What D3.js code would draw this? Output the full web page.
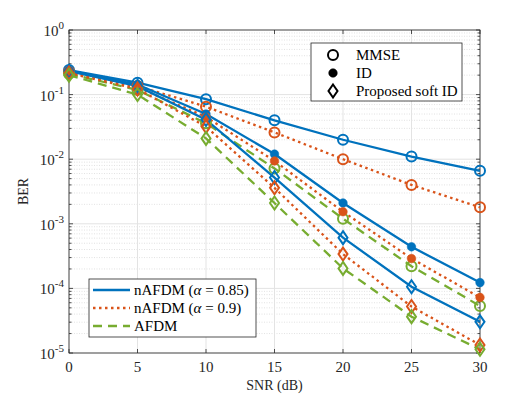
<!DOCTYPE html>
<html lang="en">
<head>
<meta charset="UTF-8">
<title>BER vs SNR</title>
<style>
  body { margin: 0; background: #fff; }
  svg text { font-family: "Liberation Serif", "Times New Roman", "DejaVu Serif", serif; fill: #262626; }
</style>
</head>
<body>
<svg id="chart" width="530" height="397"></svg>
<script src="https://d3js.org/d3.v7.min.js"></script>
<script>
// SNR points (dB)
var snr = [0, 5, 10, 15, 20, 25, 30];

// nAFDM (alpha = 0.85)
var blueMMSE = [0.24, 0.153, 0.085, 0.040, 0.020, 0.011, 0.0066];
var blueID   = [0.235, 0.143, 0.050, 0.012, 0.0021, 0.00044, 0.000123];
var blueSoft = [0.23, 0.135, 0.041, 0.0052, 0.00061, 0.000106, 0.0000304];
// nAFDM (alpha = 0.9)
var orangeMMSE = [0.225, 0.136, 0.065, 0.026, 0.010, 0.0040, 0.0018];
var orangeID   = [0.22, 0.13, 0.045, 0.0094, 0.00154, 0.00029, 0.0000725];
var orangeSoft = [0.215, 0.122, 0.032, 0.0036, 0.00034, 0.0000524, 0.0000133];
// AFDM
var greenMMSE = [0.21, 0.118, 0.036, 0.0072, 0.0012, 0.00022, 0.0000535];
var greenSoft = [0.20, 0.100, 0.021, 0.0021, 0.000204, 0.0000365, 0.0000114];

var xTicks = [0, 5, 10, 15, 20, 25, 30];
var yExps = [0, -1, -2, -3, -4, -5];

var FONT = "'Liberation Serif', 'Times New Roman', 'DejaVu Serif', serif";

var series = [
  { v: blueMMSE, c: "#0072BD", dash: null, m: "circle" },
  { v: orangeMMSE, c: "#D95319", dash: "dot", m: "circle" },
  { v: greenMMSE, c: "#77AC30", dash: "dash", m: "circle" },
  { v: blueID, c: "#0072BD", dash: null, m: "dot" },
  { v: orangeID, c: "#D95319", dash: "dot", m: "dot" },
  { v: blueSoft, c: "#0072BD", dash: null, m: "diamond" },
  { v: orangeSoft, c: "#D95319", dash: "dot", m: "diamond" },
  { v: greenSoft, c: "#77AC30", dash: "dash", m: "diamond" }
];

var margin = { top: 30, right: 50, bottom: 44, left: 69 },
    width = 530 - margin.left - margin.right,
    height = 397 - margin.top - margin.bottom;

var svg = d3.select("#chart").append("g")
    .attr("transform", "translate(" + margin.left + "," + margin.top + ")");

var x = d3.scaleLinear().domain([0, 30]).range([0, width]);
var y = d3.scaleLog().domain([1e-5, 1]).range([height, 0]);

function dashOf(d) {
  if (d === "dot") return "2.5,3.5";
  if (d === "dash") return "9,6";
  return null;
}

// minor grid (dotted)
var minors = [];
for (var e = -5; e < 0; e++) {
  for (var k = 2; k <= 9; k++) minors.push(k * Math.pow(10, e));
}
svg.selectAll(".minor").data(minors).enter().append("line")
  .attr("x1", 0).attr("x2", width)
  .attr("y1", function(d) { return y(d); }).attr("y2", function(d) { return y(d); })
  .attr("stroke", "#cfcfcf").attr("stroke-width", 0.6).attr("stroke-dasharray", "1,1.5");

// major grid
svg.selectAll(".gy").data(yExps).enter().append("line")
  .attr("x1", 0).attr("x2", width)
  .attr("y1", function(d) { return y(Math.pow(10, d)); })
  .attr("y2", function(d) { return y(Math.pow(10, d)); })
  .attr("stroke", "#e3e3e3").attr("stroke-width", 1);
svg.selectAll(".gx").data(xTicks).enter().append("line")
  .attr("y1", 0).attr("y2", height)
  .attr("x1", function(d) { return x(d); }).attr("x2", function(d) { return x(d); })
  .attr("stroke", "#e3e3e3").attr("stroke-width", 1);

// ticks (inward) on all four sides
var tk = svg.append("g").attr("stroke", "#262626").attr("stroke-width", 0.8);
xTicks.forEach(function(t) {
  tk.append("line").attr("x1", x(t)).attr("x2", x(t)).attr("y1", height).attr("y2", height - 4);
  tk.append("line").attr("x1", x(t)).attr("x2", x(t)).attr("y1", 0).attr("y2", 4);
});
yExps.forEach(function(t) {
  var yy = y(Math.pow(10, t));
  tk.append("line").attr("x1", 0).attr("x2", 4).attr("y1", yy).attr("y2", yy);
  tk.append("line").attr("x1", width).attr("x2", width - 4).attr("y1", yy).attr("y2", yy);
});
minors.forEach(function(t) {
  var yy = y(t);
  tk.append("line").attr("x1", 0).attr("x2", 2.5).attr("y1", yy).attr("y2", yy);
  tk.append("line").attr("x1", width).attr("x2", width - 2.5).attr("y1", yy).attr("y2", yy);
});

// box
svg.append("rect").attr("width", width).attr("height", height)
  .attr("fill", "none").attr("stroke", "#262626").attr("stroke-width", 0.8);

// tick labels
svg.selectAll(".xl").data(xTicks).enter().append("text")
  .attr("x", function(d) { return x(d); }).attr("y", height + 19)
  .attr("text-anchor", "middle").attr("font-family", FONT).style("font-size", "15px")
  .text(function(d) { return d; });

var yl = svg.selectAll(".yl").data(yExps).enter().append("text")
  .attr("x", -5).attr("y", function(d) { return y(Math.pow(10, d)) + 6; })
  .attr("text-anchor", "end").attr("font-family", FONT).style("font-size", "15px");
yl.append("tspan").text("10");
yl.append("tspan").attr("dy", -7).style("font-size", "11px")
  .text(function(d) { return d === 0 ? "0" : "-" + Math.abs(d); });

// axis labels
svg.append("text").attr("x", width / 2).attr("y", height + 37)
  .attr("text-anchor", "middle").attr("font-family", FONT).style("font-size", "14px").text("SNR (dB)");
svg.append("text").attr("transform", "rotate(-90)")
  .attr("x", -height / 2).attr("y", -41)
  .attr("text-anchor", "middle").attr("font-family", FONT).style("font-size", "14px").text("BER");

// lines
var line = d3.line()
  .x(function(d, i) { return x(snr[i]); })
  .y(function(d) { return y(d); });

var plot = svg.append("g");
series.forEach(function(s) {
  plot.append("path").datum(s.v)
    .attr("d", line)
    .attr("fill", "none")
    .attr("stroke", s.c)
    .attr("stroke-width", 2.3)
    .attr("stroke-dasharray", dashOf(s.dash));
});

function drawMarker(g, type, cx, cy, color) {
  if (type === "circle") {
    g.append("circle").attr("cx", cx).attr("cy", cy).attr("r", 5)
      .attr("fill", "none").attr("stroke", color).attr("stroke-width", 2);
  } else if (type === "dot") {
    g.append("circle").attr("cx", cx).attr("cy", cy).attr("r", 4.3)
      .attr("fill", color).attr("stroke", color).attr("stroke-width", 0.5);
  } else {
    g.append("path")
      .attr("d", "M" + cx + "," + (cy - 6.5) + "L" + (cx + 4.5) + "," + cy +
                 "L" + cx + "," + (cy + 6.5) + "L" + (cx - 4.5) + "," + cy + "Z")
      .attr("fill", "none").attr("stroke", color).attr("stroke-width", 2);
  }
}

series.forEach(function(s) {
  s.v.forEach(function(v, i) {
    drawMarker(plot, s.m, x(snr[i]), y(v), s.c);
  });
});

// legend: detectors (top right)
var lg1 = svg.append("g").attr("transform", "translate(" + (311 - margin.left) + "," + (43 - margin.top) + ")");
lg1.append("rect").attr("width", 151).attr("height", 58)
  .attr("fill", "#fff").attr("stroke", "#262626").attr("stroke-width", 0.8);
var detectors = ["MMSE", "ID", "Proposed soft ID"];
var detMarks = ["circle", "dot", "diamond"];
detectors.forEach(function(name, i) {
  var yy = 12 + i * 18;
  drawMarker(lg1, detMarks[i], 22, yy, "#000");
  lg1.append("text").attr("x", 45).attr("y", yy + 5).attr("font-family", FONT)
    .style("font-size", "15px").style("fill", "#000").text(name);
});

// legend: waveforms (bottom left)
var lg2 = svg.append("g").attr("transform", "translate(" + (89 - margin.left) + "," + (279 - margin.top) + ")");
lg2.append("rect").attr("width", 167).attr("height", 58)
  .attr("fill", "#fff").attr("stroke", "#262626").attr("stroke-width", 0.8);
var waves = [
  { pre: "nAFDM (", greek: "\u03B1", post: " = 0.85)", c: "#0072BD", dash: null },
  { pre: "nAFDM (", greek: "\u03B1", post: " = 0.9)", c: "#D95319", dash: "dot" },
  { pre: "AFDM", greek: "", post: "", c: "#77AC30", dash: "dash" }
];
waves.forEach(function(w, i) {
  var yy = 11 + i * 18;
  lg2.append("line").attr("x1", 4).attr("x2", 41).attr("y1", yy).attr("y2", yy)
    .attr("stroke", w.c).attr("stroke-width", 2.3)
    .attr("stroke-dasharray", dashOf(w.dash));
  var t = lg2.append("text").attr("x", 45).attr("y", yy + 5).attr("font-family", FONT)
    .style("font-size", "15px").style("fill", "#000");
  t.append("tspan").text(w.pre);
  if (w.greek) t.append("tspan").style("font-style", "italic").text(w.greek);
  t.append("tspan").text(w.post);
});
</script>
</body>
</html>
